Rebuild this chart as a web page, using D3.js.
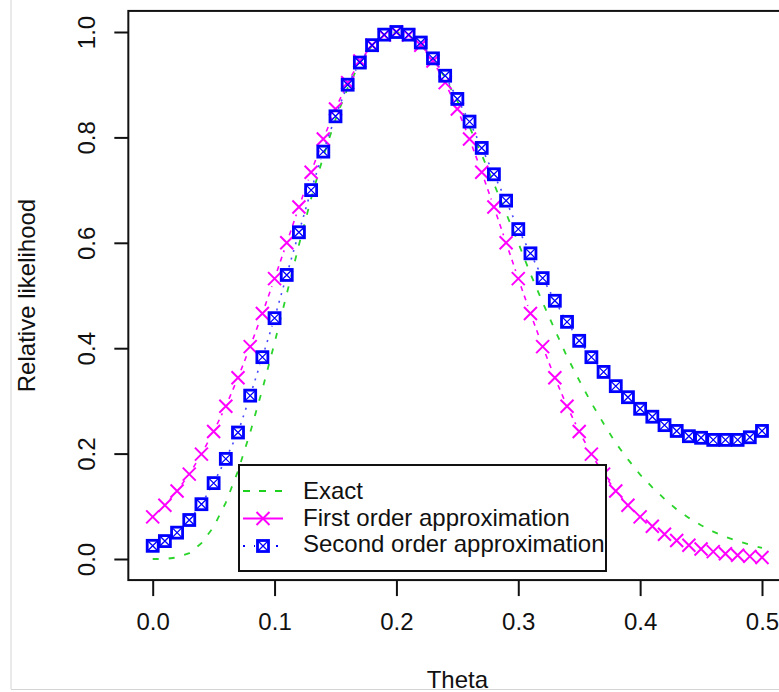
<!DOCTYPE html>
<html>
<head>
<meta charset="utf-8">
<script src="https://cdn.jsdelivr.net/npm/d3@7"></script>
<style>
  html, body { margin: 0; padding: 0; background: #fff; }
  svg { display: block; font-family: "Liberation Sans", Arial, sans-serif; }
</style>
</head>
<body>
<svg id="board" width="779" height="692"></svg>
<script>
var theta = [
  0.00, 0.01, 0.02, 0.03, 0.04, 0.05, 0.06, 0.07, 0.08, 0.09,
  0.10, 0.11, 0.12, 0.13, 0.14, 0.15, 0.16, 0.17, 0.18, 0.19,
  0.20, 0.21, 0.22, 0.23, 0.24, 0.25, 0.26, 0.27, 0.28, 0.29,
  0.30, 0.31, 0.32, 0.33, 0.34, 0.35, 0.36, 0.37, 0.38, 0.39,
  0.40, 0.41, 0.42, 0.43, 0.44, 0.45, 0.46, 0.47, 0.48, 0.49, 0.50
];

var exact = [
  0.000, 0.000, 0.003, 0.011, 0.030, 0.061, 0.107, 0.167, 0.240, 0.322,
  0.410, 0.503, 0.596, 0.684, 0.764, 0.834, 0.894, 0.941, 0.974, 0.994,
  1.000, 0.994, 0.976, 0.949, 0.913, 0.869, 0.820, 0.767, 0.712, 0.656,
  0.600, 0.541, 0.487, 0.435, 0.384, 0.339, 0.296, 0.257, 0.220, 0.189,
  0.160, 0.136, 0.114, 0.094, 0.078, 0.064, 0.052, 0.042, 0.034, 0.027, 0.021
];

var firstOrder = [
  0.080, 0.102, 0.129, 0.161, 0.199, 0.242, 0.290, 0.344, 0.403, 0.466,
  0.532, 0.600, 0.668, 0.734, 0.797, 0.854, 0.904, 0.945, 0.975, 0.994,
  1.000, 0.994, 0.975, 0.945, 0.904, 0.854, 0.797, 0.734, 0.668, 0.600,
  0.532, 0.466, 0.403, 0.344, 0.290, 0.242, 0.199, 0.161, 0.129, 0.102,
  0.080, 0.062, 0.047, 0.035, 0.026, 0.019, 0.014, 0.010, 0.007, 0.005, 0.003
];

var secondOrder = [
  0.025, 0.034, 0.050, 0.074, 0.104, 0.144, 0.190, 0.240, 0.310, 0.383,
  0.457, 0.539, 0.620, 0.700, 0.773, 0.840, 0.900, 0.942, 0.975, 0.995,
  1.000, 0.995, 0.980, 0.950, 0.917, 0.873, 0.830, 0.780, 0.730, 0.680,
  0.626, 0.580, 0.533, 0.490, 0.450, 0.414, 0.383, 0.355, 0.328, 0.307,
  0.285, 0.270, 0.254, 0.243, 0.233, 0.230, 0.226, 0.226, 0.226, 0.231, 0.243
];

var xTicks = [0, 0.1, 0.2, 0.3, 0.4, 0.5];
var yTicks = [0, 0.2, 0.4, 0.6, 0.8, 1.0];
var legendLabels = ['Exact', 'First order approximation', 'Second order approximation'];

var board = d3.select('#board');
var x = d3.scaleLinear().domain([0, 0.5]).range([152.7, 762]);
var y = d3.scaleLinear().domain([0, 1]).range([559, 32]);

// screenshot frame lines
board.append('line')
  .attr('x1', 11).attr('x2', 11).attr('y1', 0).attr('y2', 689)
  .attr('stroke', '#d4d4d4').attr('stroke-width', 1);
board.append('line')
  .attr('x1', 11).attr('x2', 779).attr('y1', 689.5).attr('y2', 689.5)
  .attr('stroke', '#d4d4d4').attr('stroke-width', 1);

var plot = board.append('g').attr('id', 'plot');

function pairs(values) {
  return theta.map(function(t, i) { return [x(t), y(values[i])]; });
}

// type = "b": segments between points, with a gap around each point
function gappedSegments(pts, gap) {
  var segs = [];
  for (var i = 0; i < pts.length - 1; ++i) {
    var a = pts[i], b = pts[i + 1];
    var dx = b[0] - a[0], dy = b[1] - a[1];
    var len = Math.sqrt(dx * dx + dy * dy);
    if (len <= 2 * gap) continue;
    var ux = dx / len, uy = dy / len;
    segs.push([a[0] + ux * gap, a[1] + uy * gap, b[0] - ux * gap, b[1] - uy * gap]);
  }
  return segs;
}

function drawSegments(root, segs, color, dash, width) {
  root.selectAll(null)
    .data(segs)
    .enter()
    .append('line')
    .attr('x1', function(s) { return s[0]; })
    .attr('y1', function(s) { return s[1]; })
    .attr('x2', function(s) { return s[2]; })
    .attr('y2', function(s) { return s[3]; })
    .attr('stroke', color)
    .attr('stroke-width', width)
    .attr('stroke-dasharray', dash);
}

function crossMark(sel, color) {
  var h = 6.5;
  sel.append('path')
    .attr('d', 'M' + -h + ',' + -h + 'L' + h + ',' + h + 'M' + -h + ',' + h + 'L' + h + ',' + -h)
    .attr('stroke', color)
    .attr('stroke-width', 2)
    .attr('fill', 'none');
}

function boxCrossMark(sel, color) {
  var h = 5.5;
  sel.append('rect')
    .attr('x', -h).attr('y', -h).attr('width', 2 * h).attr('height', 2 * h)
    .attr('fill', 'none')
    .attr('stroke', color)
    .attr('stroke-width', 2.8);
  sel.append('path')
    .attr('d', 'M' + -h + ',' + -h + 'L' + h + ',' + h + 'M' + -h + ',' + h + 'L' + h + ',' + -h)
    .attr('stroke', color)
    .attr('stroke-width', 1.3)
    .attr('fill', 'none');
}

// exact: dashed green line
var exactLine = d3.line()
  .x(function(d, i) { return x(theta[i]); })
  .y(function(d) { return y(d); });
plot.append('path')
  .datum(exact)
  .attr('d', exactLine)
  .attr('fill', 'none')
  .attr('stroke', '#2ad42a')
  .attr('stroke-width', 1.8)
  .attr('stroke-dasharray', '6,10');

// first order: magenta, short segments + crosses
var firstPts = pairs(firstOrder);
drawSegments(plot.append('g'), gappedSegments(firstPts, 8), '#ff00ff', '5,5', 1.6);
plot.append('g')
  .selectAll('.first-point')
  .data(firstPts)
  .enter()
  .append('g')
  .classed('first-point', true)
  .attr('transform', function(p) { return 'translate(' + p[0] + ',' + p[1] + ')'; })
  .each(function() { crossMark(d3.select(this), '#ff00ff'); });

// second order: blue, dotted segments + boxed crosses
var secondPts = pairs(secondOrder);
drawSegments(plot.append('g'), gappedSegments(secondPts, 8), '#4a4aff', '2,6', 1.6);
plot.append('g')
  .selectAll('.second-point')
  .data(secondPts)
  .enter()
  .append('g')
  .classed('second-point', true)
  .attr('transform', function(p) { return 'translate(' + p[0] + ',' + p[1] + ')'; })
  .each(function() { boxCrossMark(d3.select(this), '#0000ff'); });

// plot box
var boxLeft = x(-0.02), boxRight = x(0.52), boxTop = y(1.04), boxBottom = y(-0.04);
board.append('rect')
  .attr('x', boxLeft).attr('y', boxTop)
  .attr('width', boxRight - boxLeft).attr('height', boxBottom - boxTop)
  .attr('fill', 'none')
  .attr('stroke', '#111')
  .attr('stroke-width', 2);

// axes
var xAxis = board.append('g')
  .attr('transform', 'translate(0,' + boxBottom + ')')
  .call(d3.axisBottom(x).tickValues(xTicks).tickSize(16).tickPadding(17).tickFormat(d3.format('.1f')));
var yAxis = board.append('g')
  .attr('transform', 'translate(' + boxLeft + ',0)')
  .call(d3.axisLeft(y).tickValues(yTicks).tickSize(14).tickFormat(d3.format('.1f')));

[xAxis, yAxis].forEach(function(ax) {
  ax.select('.domain').remove();
  ax.selectAll('.tick line').attr('stroke', '#111').attr('stroke-width', 2);
  ax.selectAll('.tick text').attr('fill', '#111').style('font-size', '24px');
  ax.attr('font-family', null).attr('font-size', null);
});
yAxis.selectAll('.tick text')
  .attr('x', null).attr('dy', null)
  .attr('text-anchor', 'middle')
  .attr('transform', 'translate(-33,0) rotate(-90)');

// axis titles
board.append('text')
  .attr('x', x(0.25)).attr('y', 688)
  .attr('text-anchor', 'middle')
  .attr('fill', '#111')
  .style('font-size', '24px')
  .text('Theta');
board.append('text')
  .attr('transform', 'translate(35,' + y(0.5) + ') rotate(-90)')
  .attr('text-anchor', 'middle')
  .attr('fill', '#111')
  .style('font-size', '24px')
  .text('Relative likelihood');

// legend
var legend = board.append('g').attr('id', 'legend');
legend.append('rect')
  .attr('x', 239).attr('y', 465).attr('width', 367).attr('height', 106)
  .attr('fill', '#fff')
  .attr('stroke', '#111')
  .attr('stroke-width', 2);

var rows = legend.selectAll('.legend-row')
  .data(legendLabels)
  .enter()
  .append('g')
  .classed('legend-row', true)
  .attr('transform', function(d, i) { return 'translate(0,' + (499 + i * 26.5) + ')'; });

rows.append('text')
  .attr('x', 303).attr('y', 0)
  .attr('fill', '#111')
  .style('font-size', '24px')
  .text(function(d) { return d; });

rows.filter(function(d, i) { return i === 0; })
  .append('line')
  .attr('x1', 243).attr('x2', 283).attr('y1', -8).attr('y2', -8)
  .attr('stroke', '#1fd11f').attr('stroke-width', 2).attr('stroke-dasharray', '7,9');
rows.filter(function(d, i) { return i === 1; })
  .each(function() {
    var r = d3.select(this);
    r.append('line')
      .attr('x1', 243).attr('x2', 283).attr('y1', -7).attr('y2', -7)
      .attr('stroke', '#ff00ff').attr('stroke-width', 2);
    crossMark(r.append('g').attr('transform', 'translate(263,-7)'), '#ff00ff');
  });
rows.filter(function(d, i) { return i === 2; })
  .each(function() {
    var r = d3.select(this);
    r.append('line')
      .attr('x1', 243).attr('x2', 283).attr('y1', -6).attr('y2', -6)
      .attr('stroke', '#0000ff').attr('stroke-width', 2).attr('stroke-dasharray', '2,9');
    r.append('rect')
      .attr('x', 255).attr('y', -14).attr('width', 16).attr('height', 16)
      .attr('fill', '#fff');
    boxCrossMark(r.append('g').attr('transform', 'translate(263,-6)'), '#0000ff');
  });
</script>
</body>
</html>
